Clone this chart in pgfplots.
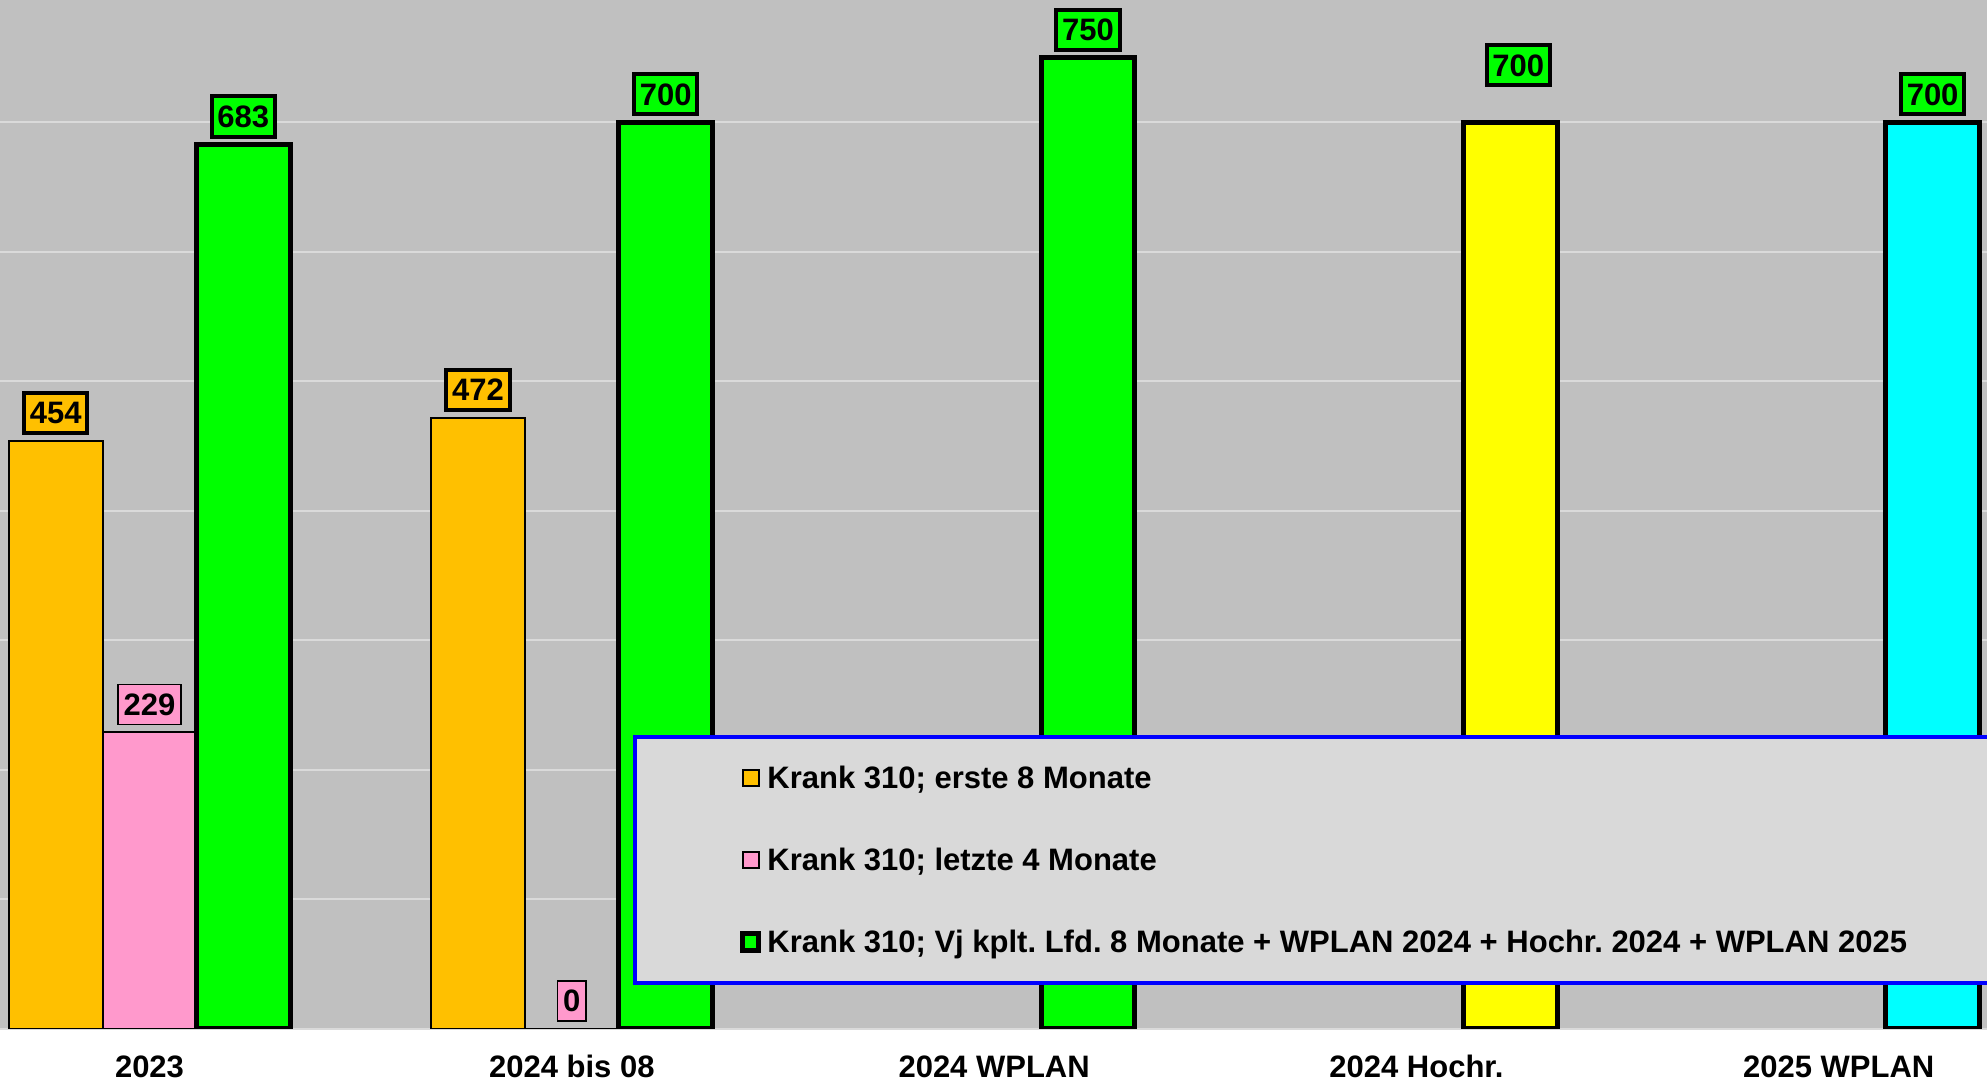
\documentclass[border=0pt]{standalone}
\usepackage{fontspec}
\setmainfont{Liberation Sans}
\usepackage{pgfplots}
\pgfplotsset{compat=1.18}

\definecolor{orng}{HTML}{FFC000}
\definecolor{pnk}{HTML}{FF99CC}
\definecolor{grn}{HTML}{00FF00}
\definecolor{yel}{HTML}{FFFF00}
\definecolor{cyn}{HTML}{00FFFF}
\definecolor{bg}{HTML}{C0C0C0}
\definecolor{gridc}{HTML}{DADADA}
\definecolor{legbg}{HTML}{D9D9D9}

\newcommand{\lf}{\fontsize{15.5}{18}\selectfont\bfseries}

\tikzset{
  lbl/.style={draw=black, fill=#1, font=\lf, inner xsep=2.9pt, inner ysep=4.6pt,
    text depth=0pt, outer sep=0pt, anchor=south, yshift=4pt},
}
\pgfplotsset{
  sq/.style={legend image code/.code={\draw[##1] (0pt,-4.1pt) rectangle (8.2pt,4.1pt);}},
}

\begin{document}
\frenchspacing
\begin{tikzpicture}
\begin{axis}[
  name=ax,
  scale only axis,
  width=993.5pt, height=514.5pt,
  xmin=-0.354, xmax=4.351,
  ymin=0, ymax=794.6,
  axis background/.style={fill=bg},
  axis line style={draw=none},
  major tick length=0pt,
  xtick={0,1,2,3,4},
  xticklabels={2023, 2024 bis 08, 2024 WPLAN, 2024 Hochr., 2025 WPLAN},
  xticklabel style={font=\lf, anchor=base, yshift=-24.5pt},
  ytick={0,100,...,700},
  yticklabels={},
  ymajorgrids,
  grid style={draw=gridc, line width=1pt},
  ybar, bar width=0.2222,
  nodes near coords,
  /pgf/number format/assume math mode=true,
  legend cell align=left,
  legend style={at={(axis description cs:0.3196,0.2838)}, anchor=north west,
    fill=legbg, draw=blue, line width=2.35pt, inner xsep=52.5pt, inner ysep=0pt,
    outer sep=0pt, font=\lf, row sep=0pt, column sep=3pt,
    nodes={inner xsep=0pt, inner ysep=0pt, text height=26pt, text depth=15pt}},
]
% erste 8 Monate
\addplot[fill=orng, draw=black, line width=1pt, bar shift=-0.2222, sq,
  every node near coord/.append style={lbl=orng, line width=2pt}]
  coordinates {(0,454) (1,472)};
\addlegendentry{Krank 310; erste 8 Monate}
% letzte 4 Monate
\addplot[fill=pnk, draw=black, line width=1pt, bar shift=0, sq,
  every node near coord/.append style={lbl=pnk, line width=0.8pt}]
  coordinates {(0,229) (1,0)};
\addlegendentry{Krank 310; letzte 4 Monate}
% Vj / WPLAN / Hochr.
\addplot[fill=grn, draw=black, line width=2.5pt, bar shift=0.2222, sq,
  every node near coord/.append style={lbl=grn, line width=2pt}]
  coordinates {(0,683) (1,700) (2,750)};
\addlegendentry{Krank 310; Vj kplt. Lfd. 8 Monate + WPLAN 2024 + Hochr. 2024 + WPLAN 2025}
\addplot[forget plot, fill=yel, draw=black, line width=2.5pt, bar shift=0.2222,
  every node near coord/.append style={lbl=grn, line width=2pt, xshift=4pt, yshift=14.5pt}]
  coordinates {(3,700)};
\addplot[forget plot, fill=cyn, draw=black, line width=2.5pt, bar shift=0.2222,
  every node near coord/.append style={lbl=grn, line width=2pt}]
  coordinates {(4,700)};
\end{axis}
\pgfresetboundingbox
\useasboundingbox (ax.north west) rectangle ([yshift=-27pt]ax.south east);
\end{tikzpicture}
\end{document}
